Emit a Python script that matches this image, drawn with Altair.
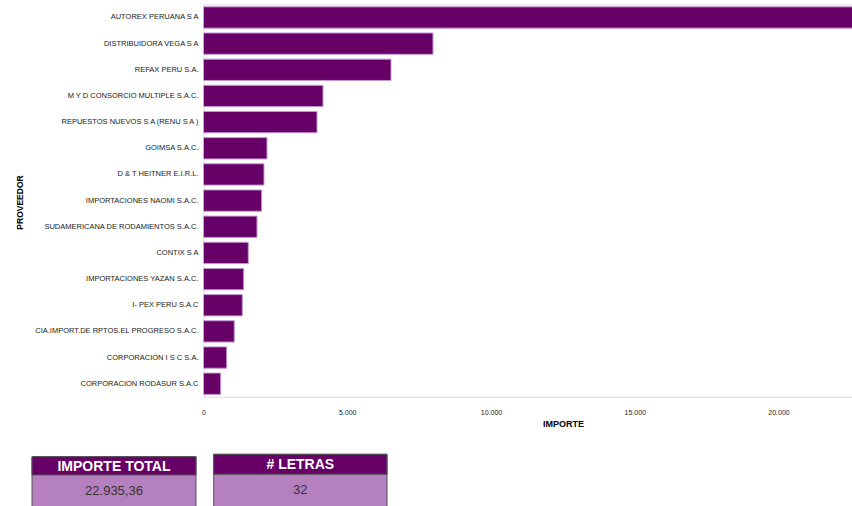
import altair as alt
import pandas as pd

proveedores = [
    "AUTOREX PERUANA S A",
    "DISTRIBUIDORA VEGA S A",
    "REFAX PERU S.A.",
    "M Y D CONSORCIO MULTIPLE S.A.C.",
    "REPUESTOS NUEVOS S A (RENU S A )",
    "GOIMSA S.A.C.",
    "D & T HEITNER E.I.R.L.",
    "IMPORTACIONES NAOMI S.A.C.",
    "SUDAMERICANA DE RODAMIENTOS S.A.C.",
    "CONTIX S A",
    "IMPORTACIONES YAZAN S.A.C.",
    "I- PEX PERU S.A.C",
    "CIA.IMPORT.DE RPTOS.EL PROGRESO S.A.C.",
    "CORPORACION I S C S.A.",
    "CORPORACION RODASUR S.A.C",
]
importes = [22935, 7983, 6522, 4157, 3948, 2209, 2104, 2024, 1861, 1558, 1398, 1350, 1071, 807, 598]
x_ticks = [0, 5000, 10000, 15000, 20000]
x_max = 22557

kpi_labels = ["IMPORTE TOTAL", "# LETRAS"]
kpi_values = ["22.935,36", "32"]

df = pd.DataFrame({"PROVEEDOR": proveedores, "IMPORTE": importes})

PURPLE = "#660066"
LIGHT = "#b580bf"

bars = alt.Chart(df).mark_bar(
    color=PURPLE, stroke="#c49ad0", strokeWidth=1, clip=True
).encode(
    y=alt.Y("PROVEEDOR:N", sort=proveedores,
            scale=alt.Scale(paddingInner=0.185, paddingOuter=0.0925),
            axis=alt.Axis(title="PROVEEDOR", ticks=False, domain=False, grid=False,
                          labelFont="Liberation Sans", labelFontSize=7.5,
                          labelColor="#1a1a1a", labelPadding=5.5, labelLimit=300,
                          titleFont="Liberation Sans", titleFontSize=8.5,
                          titleFontWeight="bold", titleColor="#000000",
                          titleAngle=270, titleAlign="center", titleBaseline="middle",
                          titleX=-184.5, titleY=197.6)),
    x=alt.X("IMPORTE:Q",
            scale=alt.Scale(domain=[0, x_max], nice=False, zero=True),
            axis=alt.Axis(title="IMPORTE", values=x_ticks, ticks=False, domain=False,
                          grid=False,
                          labelExpr="replace(format(datum.value, ','), ',', '.')",
                          labelFont="Liberation Sans", labelFontSize=7,
                          labelColor="#1a1a1a", labelPadding=11.5,
                          labelOverlap=False, labelFlush=False,
                          titleFont="Liberation Sans", titleFontSize=9,
                          titleFontWeight="bold", titleColor="#000000",
                          titleAlign="center", titleBaseline="middle",
                          titleX=359.5, titleY=26.2)),
)


def card(idx, x0, x1, ytop, yhead, ty, vy):
    d = pd.DataFrame({"label": [kpi_labels[idx]], "value": [kpi_values[idx]]})
    base = alt.Chart(d)
    body = base.mark_rect(fill=LIGHT, stroke="#555555", strokeWidth=1).encode(
        x=alt.value(x0), x2=alt.value(x1), y=alt.value(ytop), y2=alt.value(515))
    head = base.mark_rect(fill=PURPLE, stroke="#555555", strokeWidth=1).encode(
        x=alt.value(x0), x2=alt.value(x1), y=alt.value(ytop), y2=alt.value(yhead))
    htxt = base.mark_text(font="Liberation Sans", fontSize=14, fontWeight="bold",
                          color="white", baseline="middle", align="center").encode(
        text="label:N", x=alt.value((x0 + x1) / 2), y=alt.value(ty))
    vtxt = base.mark_text(font="Liberation Sans", fontSize=13,
                          color="#333333", baseline="middle", align="center").encode(
        text="value:N", x=alt.value((x0 + x1) / 2), y=alt.value(vy))
    return [body, head, htxt, vtxt]


layers = [bars] + card(0, -171.5, -7.5, 452.3, 470.6, 462.1, 486.6) \
    + card(1, 10.2, 183.5, 449.9, 469.9, 460.6, 485.6)

chart = alt.layer(*layers).properties(
    width=648.5, height=392.4,
    autosize=alt.AutoSizeParams(type="none"),
    padding={"left": 203.5, "top": 4.4, "right": 0, "bottom": 109.2},
).configure_view(strokeWidth=0, stroke="transparent").configure_axis(
    grid=False, domain=False, ticks=False
).configure_axisX(grid=False, domain=False, ticks=False).configure_axisY(
    grid=False, domain=False, ticks=False
).configure_axisBand(grid=False, domain=False, ticks=False, tickExtra=False).configure(
    background="white"
)

chart.save("out.html", embed_options={"renderer": "svg", "actions": False})
